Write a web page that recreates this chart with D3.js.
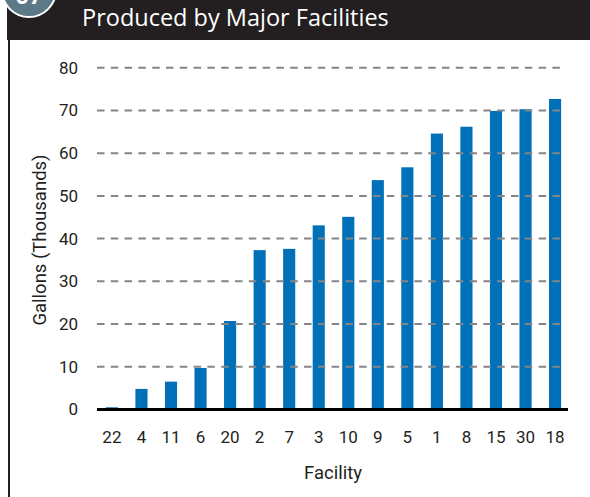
<!DOCTYPE html>
<html>
<head>
<meta charset="utf-8">
<script src="https://cdn.jsdelivr.net/npm/d3@7"></script>
<style>
  html, body { margin: 0; padding: 0; background: #fff; }
  svg { display: block; }
</style>
</head>
<body>
<svg id="chart" width="590" height="497"></svg>
<script>
const facilities = ["22","4","11","6","20","2","7","3","10","9","5","1","8","15","30","18"];
const gallons = [0.5, 4.8, 6.5, 9.7, 20.7, 37.3, 37.6, 43.1, 45.1, 53.7, 56.7, 64.6, 66.2, 69.9, 70.3, 72.7];
const yTicks = [0, 10, 20, 30, 40, 50, 60, 70, 80];
const titleText = "Produced by Major Facilities";
const badgeText = "07";
const yTitle = "Gallons (Thousands)";
const xTitle = "Facility";

const svg = d3.select("#chart");
const dark = "#231f20";
const font = "Roboto, 'DejaVu Sans Condensed', sans-serif";

// frame
svg.append("rect").attr("x", 7).attr("y", 0).attr("width", 583).attr("height", 40).attr("fill", dark);
svg.append("rect").attr("x", 8).attr("y", 40).attr("width", 2).attr("height", 457).attr("fill", dark);
svg.append("circle").attr("cx", 29).attr("cy", -10).attr("r", 27)
  .attr("fill", "#5b7987").attr("stroke", "#fff").attr("stroke-width", 2);
svg.append("text").attr("x", 29).attr("y", 4).attr("text-anchor", "middle")
  .attr("fill", "#fff").attr("font-family", font).attr("font-weight", "bold").attr("font-size", 24)
  .text(badgeText);
svg.append("text").attr("x", 82).attr("y", 26)
  .attr("fill", "#fff").attr("font-family", "'Open Sans', sans-serif").attr("font-size", 23.5)
  .text(titleText);

// scales
const x = d3.scaleBand().domain(facilities).range([97, 570]).paddingInner(0.59).paddingOuter(0.3);
const y = d3.scaleLinear().domain([0, 80]).range([409.4, 67.8]);

// bars
svg.append("g").selectAll("rect").data(gallons).join("rect")
  .attr("x", (d, i) => x(facilities[i]))
  .attr("width", x.bandwidth())
  .attr("y", d => y(d))
  .attr("height", d => y(0) - y(d))
  .attr("fill", "#0070b9");

// gridlines (drawn above bars)
svg.append("g").selectAll("line").data(yTicks.filter(t => t > 0)).join("line")
  .attr("x1", 97).attr("x2", 563)
  .attr("y1", d => y(d)).attr("y2", d => y(d))
  .attr("stroke", "#858585").attr("stroke-width", 2)
  .attr("stroke-dasharray", "7.5,6.3");

// baseline
svg.append("line").attr("x1", 97).attr("x2", 568).attr("y1", y(0)).attr("y2", y(0))
  .attr("stroke", "#000").attr("stroke-width", 3);

// y tick labels
const yAxis = d3.axisLeft(y).tickValues(yTicks).tickSize(0).tickPadding(0);
const gy = svg.append("g").attr("transform", "translate(78,0)").call(yAxis);
gy.select(".domain").remove();
gy.selectAll("text").attr("font-family", font).attr("font-size", 17).attr("fill", "#231f20");

// x tick labels
const xAxis = d3.axisBottom(x).tickSize(0).tickPadding(0);
const gx = svg.append("g").attr("transform", "translate(0,431)").call(xAxis);
gx.select(".domain").remove();
gx.selectAll("text").attr("font-family", font).attr("font-size", 17).attr("fill", "#231f20");

// axis titles
svg.append("text").attr("transform", "translate(46,240) rotate(-90)")
  .attr("text-anchor", "middle").attr("font-family", font).attr("font-size", 18.5).attr("fill", "#231f20")
  .text(yTitle);
svg.append("text").attr("x", 333).attr("y", 479)
  .attr("text-anchor", "middle").attr("font-family", font).attr("font-size", 18.5).attr("fill", "#231f20")
  .text(xTitle);
</script>
</body>
</html>
